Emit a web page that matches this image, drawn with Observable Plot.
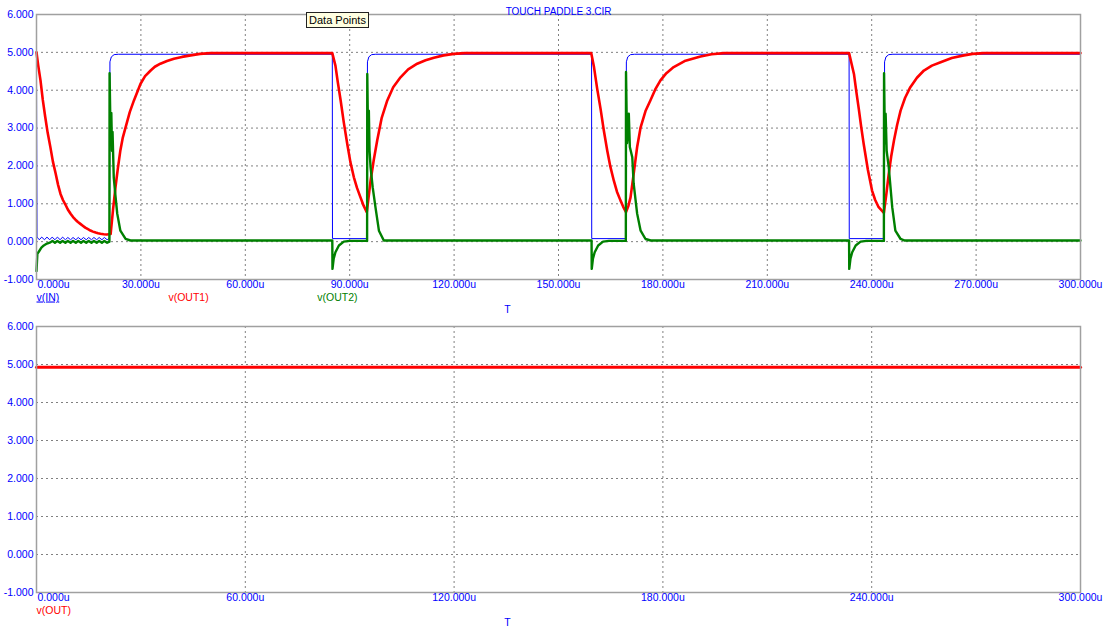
<!DOCTYPE html>
<html><head><meta charset="utf-8">
<script src="https://cdn.jsdelivr.net/npm/d3@7"></script>
<script src="https://cdn.jsdelivr.net/npm/@observablehq/plot@0.6"></script>
<style>
html,body{margin:0;padding:0;background:#fff;}
#wrap{position:relative;width:1106px;height:634px;overflow:hidden;background:#fff;}
#wrap svg{display:block;}
g.lbl-under text{text-decoration:underline;}
#dp{position:absolute;left:306px;top:12px;width:61px;height:14px;border:1px solid #222;background:#ffffe1;font:11px "Liberation Sans",Arial,sans-serif;line-height:14px;text-align:center;color:#000;z-index:2;}
</style></head><body><div id="wrap"><div id="dp">Data Points</div></div>
<script>
// ---- data (time in microseconds, value in volts) ----
const yTicks = [-1, 0, 1, 2, 3, 4, 5, 6];
const xTicksTop = [0, 30, 60, 90, 120, 150, 180, 210, 240, 270, 300];
const xTicksBottom = [0, 60, 120, 180, 240, 300];

const vIN = [
  [0,4.52],[0.15,0.12],[0.8,0.05],[1.5,0.12],[2.3,0.05],[3.0,0.12],[3.8,0.05],[4.5,0.12],[5.3,0.05],[6.0,0.12],
  [6.8,0.05],[7.5,0.12],[8.3,0.05],[9.0,0.11],[9.8,0.05],[10.5,0.11],[11.3,0.05],[12.0,0.11],[12.8,0.05],[13.5,0.11],
  [14.3,0.05],[15.0,0.11],[15.8,0.05],[16.5,0.11],[17.3,0.05],[18.0,0.11],[18.8,0.05],[19.5,0.11],[20.3,0.05],[21.0,0.1],
  [21.1,4.75],[21.5,4.88],[22.3,4.94],[23.5,4.95],
  [85.0,4.95],[85.05,0.08],[95.0,0.08],[95.1,4.75],[95.5,4.88],[96.3,4.94],[97.5,4.95],
  [159.5,4.95],[159.55,0.08],[169.4,0.08],[169.5,4.75],[169.9,4.88],[170.7,4.94],[171.9,4.95],
  [233.5,4.95],[233.55,0.08],[243.6,0.08],[243.7,4.75],[244.1,4.88],[244.9,4.94],[246.1,4.95],
  [300,4.95]
];

const vOUT1 = [
  [0,5.0],[0.5,4.65],[1.15,4.26],[1.8,3.75],[2.5,3.3],[3.2,2.88],[4.0,2.49],[4.7,2.12],[5.5,1.8],[6.2,1.5],[6.9,1.26],
  [7.6,1.1],[8.3,0.98],[9.0,0.85],[9.8,0.735],[10.5,0.65],[11.2,0.58],[11.9,0.52],[12.6,0.47],[13.3,0.42],
  [14.0,0.37],[14.8,0.33],[15.5,0.294],[16.2,0.265],[17.0,0.24],[17.7,0.22],[18.4,0.207],[19.3,0.195],[20.2,0.19],[21.3,0.2],
  [22.0,0.85],[22.7,1.44],[23.4,1.95],[24.1,2.41],[24.8,2.75],[25.6,3.02],[26.8,3.42],[28.0,3.73],[29.9,4.17],[31.2,4.37],
  [32.8,4.52],[34.0,4.62],[35.6,4.70],[37.5,4.77],[39.5,4.83],[41.8,4.88],[44.3,4.92],[47.0,4.96],[50.0,4.98],
  [85.0,4.98],[85.9,4.65],[86.6,4.2],[87.4,3.73],[88.3,3.15],[89.3,2.58],[90.2,2.1],[91.2,1.70],[92.1,1.42],[93.1,1.17],[94.0,0.95],[94.9,0.78],
  [95.4,1.15],[96.0,1.61],[96.9,2.15],[97.9,2.67],[99.2,3.27],[100.8,3.73],[102.5,4.08],[104.6,4.34],[106.8,4.55],
  [109.4,4.70],[111.8,4.79],[114.2,4.86],[117.0,4.92],[119.9,4.96],[123.0,4.98],
  [159.4,4.98],[160.2,4.61],[161.1,4.05],[162.1,3.50],[163.0,2.95],[164.0,2.41],[164.9,1.98],[165.9,1.61],[166.8,1.32],[167.8,1.09],[168.6,0.92],[169.4,0.78],
  [170.1,0.95],[170.7,1.17],[171.6,1.79],[172.6,2.5],[173.6,3.02],[175.0,3.45],[176.4,3.73],[177.8,4.02],[179.3,4.26],
  [181.0,4.45],[183.1,4.61],[186.5,4.78],[190.8,4.89],[194.0,4.95],[197.5,4.98],
  [233.5,4.98],[234.9,4.43],[235.6,3.95],[236.3,3.50],[237.0,3.02],[237.7,2.58],[238.9,1.9],[240.1,1.35],[241.0,1.1],[242.0,0.91],[243.5,0.76],
  [244.2,1.25],[244.9,1.79],[245.6,2.25],[246.4,2.67],[247.3,3.08],[248.3,3.46],[249.6,3.8],[251.1,4.08],[253.0,4.33],
  [255.0,4.52],[257.3,4.65],[259.8,4.74],[263.0,4.85],[266.5,4.92],[269.0,4.96],[272.2,4.98],
  [300,4.98]
];

const vOUT2 = [
  [0,-0.78],[0.25,-0.32],[0.7,-0.26],[1.4,-0.16],[2.1,-0.1],[3.0,-0.05],[4.0,-0.02],
  [4.6,0.02],[5.3,-0.03],[6.0,0.02],[6.8,-0.03],[7.5,0.02],[8.3,-0.03],[9.0,0.02],[9.8,-0.03],[10.5,0.02],
  [11.3,-0.03],[12.0,0.02],[12.8,-0.03],[13.5,0.02],[14.3,-0.03],[15.0,0.02],[15.8,-0.03],[16.5,0.02],
  [17.3,-0.03],[18.0,0.02],[18.8,-0.03],[19.5,0.02],[20.3,-0.03],[20.95,0.0],
  [21.0,4.45],[21.3,2.7],[21.5,3.4],[21.7,2.4],[21.85,2.9],[22.2,1.7],[22.7,1.2],[23.2,0.74],[24.1,0.29],[25.6,0.075],[27.0,0.03],
  [85.0,0.03],[85.05,-0.72],[85.4,-0.45],[85.9,-0.28],[86.9,-0.1],[88.3,0.0],[90.0,0.02],[95.0,0.02],
  [95.05,4.43],[95.3,2.6],[95.5,3.46],[95.7,2.4],[96.0,1.97],[96.6,1.44],[97.4,0.91],[98.4,0.29],[99.8,0.03],
  [159.5,0.03],[159.55,-0.72],[159.9,-0.45],[160.4,-0.28],[161.4,-0.1],[162.8,0.0],[164.5,0.02],[169.35,0.02],
  [169.4,4.48],[169.7,2.6],[170.2,3.38],[170.5,2.5],[171.2,2.23],[171.6,1.53],[172.6,0.74],[173.6,0.29],[175.0,0.07],[176.5,0.03],
  [233.5,0.03],[233.55,-0.72],[233.9,-0.45],[234.4,-0.28],[235.4,-0.1],[236.8,0.0],[238.5,0.02],[243.5,0.02],
  [243.55,4.45],[243.8,2.6],[244.0,3.38],[244.3,2.4],[244.9,1.97],[245.9,0.91],[246.8,0.29],[248.3,0.07],[249.5,0.03],
  [300,0.03]
];

const vOUT = [[0,4.93],[300,4.93]];

const topLegendNames = ["v(IN)", "v(OUT1)", "v(OUT2)"];
const topLegendAt = [0, 37.9, 80.7];
const bottomLegendNames = ["v(OUT)"];
const bottomLegendAt = [0];
const axisName = "T";
const axisNameAt = 135.3;
const title = "TOUCH PADDLE 3.CIR";

// ---- drawing ----
const BLUE = "#0000ff", RED = "#ff0000", GREEN = "#008000";
const font = "'Liberation Sans', Arial, Helvetica, sans-serif";
const fmtV = d => d.toFixed(3);
const fmtT = d => d.toFixed(3) + "u";
const gridStyle = {stroke: "#808080", strokeOpacity: 1, strokeWidth: 1, strokeDasharray: "2,3"};

function panel({xTicks, series, legendNames, legendAt, legendColors, underlineFirst, titleText, marginTop, marginBottom}) {
  const marks = [
    Plot.gridX(xTicks.filter(t => t > 0 && t < 300), gridStyle),
    Plot.gridY(yTicks.filter(t => t > -1 && t < 6), gridStyle),
    ...series.map(s => Plot.line(s.data, {x: d => d[0], y: d => d[1], stroke: s.color, strokeWidth: s.width})),
    Plot.frame({stroke: "#a0a0a0", strokeWidth: 1.5}),
    Plot.text(yTicks, {y: d => d, text: fmtV, frameAnchor: "left", textAnchor: "end", dx: -3, fill: BLUE, fontSize: 10.5}),
    Plot.text(xTicks.slice(0, 1), {x: d => d, text: fmtT, frameAnchor: "bottom", textAnchor: "start", dx: 1, dy: 8.5, fill: BLUE, fontSize: 10.5}),
    Plot.text(xTicks.slice(1), {x: d => d, text: fmtT, frameAnchor: "bottom", dy: 8.5, fill: BLUE, fontSize: 10.5}),
    ...legendNames.map((n, i) => Plot.text([n], {
      x: legendAt[i], frameAnchor: "bottom", textAnchor: "start", dy: 21,
      fill: legendColors[i], fontSize: 10.5,
      className: (underlineFirst && i === 0) ? "lbl-under" : "lbl"
    })),
    Plot.text([axisName], {x: axisNameAt, frameAnchor: "bottom", dy: 33, fill: BLUE, fontSize: 10.5})
  ];
  if (titleText) marks.push(Plot.text([titleText], {frameAnchor: "top", dy: -7, fill: BLUE, fontSize: 10}));
  return Plot.plot({
    width: 1106, height: 317,
    marginLeft: 36, marginRight: 26, marginTop, marginBottom,
    style: {fontFamily: font, background: "transparent", overflow: "visible"},
    x: {domain: [0, 300], axis: null},
    y: {domain: [-1, 6], axis: null},
    marks
  });
}

const topChart = panel({
  xTicks: xTicksTop,
  series: [
    {data: vIN, color: BLUE, width: 1},
    {data: vOUT1, color: RED, width: 2.6},
    {data: vOUT2, color: GREEN, width: 2.4}
  ],
  legendNames: topLegendNames, legendAt: topLegendAt, legendColors: [BLUE, RED, GREEN],
  underlineFirst: true, titleText: title, marginTop: 14, marginBottom: 38
});

const bottomChart = panel({
  xTicks: xTicksBottom,
  series: [{data: vOUT, color: RED, width: 3}],
  legendNames: bottomLegendNames, legendAt: bottomLegendAt, legendColors: [RED],
  underlineFirst: false, titleText: null, marginTop: 9, marginBottom: 42
});

const wrap = document.getElementById("wrap");
wrap.appendChild(topChart);
wrap.appendChild(bottomChart);
</script></body></html>
